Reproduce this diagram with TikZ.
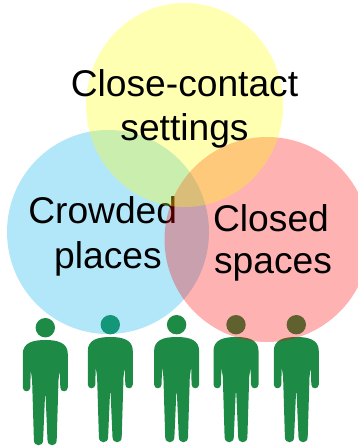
\documentclass[tikz,border=0pt]{standalone}
\usepackage{fontspec}
\setmainfont{Liberation Sans}
\definecolor{figgreen}{RGB}{29,139,70}
\definecolor{setblue}{RGB}{0,176,240}
\definecolor{setred}{RGB}{255,0,0}
\definecolor{setyellow}{RGB}{255,255,0}
\tikzset{
  x=1pt,y=-1pt,
  setdisc/.style={fill opacity=0.3,draw=none},
  label/.style={font=\fontsize{37.2}{37.2}\selectfont,text=black,inner sep=0pt,anchor=base,align=center},
  pics/person/.style={code={
    \fill[figgreen] (0,-12.3) circle[radius=9.7];
    \fill[figgreen] (0,0)
      .. controls (13,0) and (22.5,3) .. (22.5,14)
      -- (22.5,47.5)
      .. controls (22.5,52.5) and (15,52.5) .. (15,47.5)
      -- (14.6,30)
      -- (13.2,40) -- (11.4,100)
      .. controls (11.4,107) and (2.2,107) .. (2.2,100)
      -- (0.3,56) -- (-0.3,56)
      -- (-2.2,100)
      .. controls (-2.2,107) and (-11.4,107) .. (-11.4,100)
      -- (-13.2,40) -- (-14.6,30)
      -- (-15,47.5)
      .. controls (-15,52.5) and (-22.5,52.5) .. (-22.5,47.5)
      -- (-22.5,14)
      .. controls (-22.5,3) and (-13,0) .. (0,0) -- cycle;
  }}
}
\begin{document}
\begin{tikzpicture}
\useasboundingbox (0,0) rectangle (358,447);
\clip (0,0) rectangle (358,447);
\fill[white] (0,0) rectangle (358,447);
\pic at (45.3,340) {person};
\pic at (110.3,337) {person};
\pic at (176.6,337) {person};
\pic at (236,337) {person};
\pic at (296.3,337) {person};
\fill[setdisc,setblue] (108,232) ellipse[x radius=101,y radius=102];
\node[label] (crowded) at (102.7,223) {Crowded};
\node[label] (places) at (108,268) {places};
\fill[setdisc,setred] (267,239.5) circle[radius=102.5];
\fill[setdisc,setyellow] (184.6,105) ellipse[x radius=98.5,y radius=102];
\node[label] (closecontact) at (184.5,96) {Close-contact};
\node[label] (settings) at (184.5,140) {settings};
\node[label] (closed) at (271,231) {Closed};
\node[label] (spaces) at (273,273) {spaces};
\end{tikzpicture}
\end{document}
